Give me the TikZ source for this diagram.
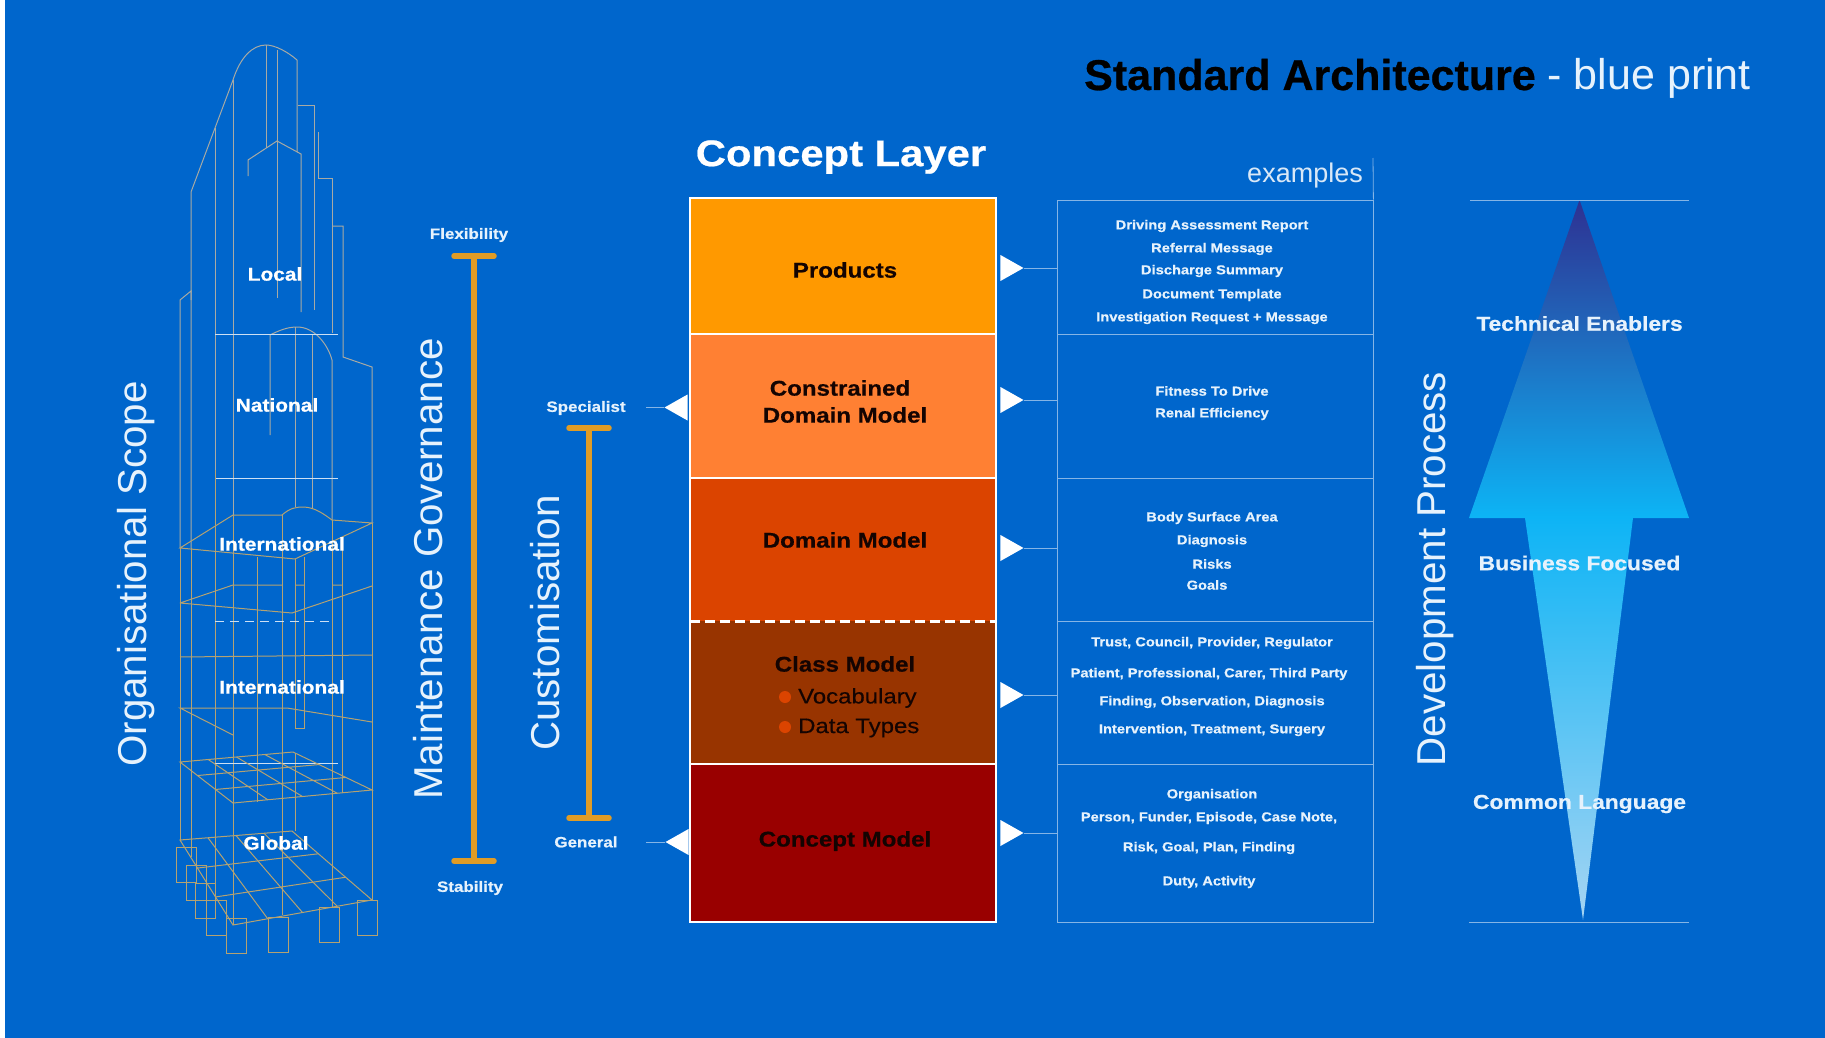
\documentclass[tikz,border=0pt]{standalone}
\usepackage{fontspec}
\usepackage{xcolor}
\usetikzlibrary{shapes.geometric}
\setmainfont{Liberation Sans}
\newfontfamily\widebold[FakeStretch=1.13,FakeBold=0.6]{Liberation Sans Bold}
\newfontfamily\heavybold[FakeBold=0.6]{Liberation Sans Bold}
\newfontfamily\wideplain[FakeStretch=1.14,FakeBold=0.4]{Liberation Sans}
\definecolor{printblue}{HTML}{0066CC}
\definecolor{towergrey}{HTML}{A8AAA4}
\definecolor{towertan}{HTML}{B4A272}
\definecolor{barorange}{HTML}{E09C26}
\definecolor{rowline}{HTML}{85B5E6}
\definecolor{softwhite}{HTML}{E6F2FC}
\definecolor{productsfill}{HTML}{FF9900}
\definecolor{constrainedfill}{HTML}{FF8033}
\definecolor{domainfill}{HTML}{DB4400}
\definecolor{classfill}{HTML}{983400}
\definecolor{conceptfill}{HTML}{990000}
\definecolor{arrowtop}{HTML}{2E3192}
\definecolor{arrowmid}{HTML}{0DB4F5}
\definecolor{arrowlow}{HTML}{A5D4F3}
\definecolor{darktext}{HTML}{140402}
\pgfdeclareverticalshading{arrowfade}{100bp}{
    color(0bp)=(arrowlow);
    color(25bp)=(arrowlow);
    color(53bp)=(arrowmid);
    color(75bp)=(arrowtop);
    color(100bp)=(arrowtop)}
\tikzset{
    x=1pt, y=-1pt,
    layer-box/.style = {rectangle, inner sep=0pt, minimum width=306pt},
    layer-title/.style = {font=\widebold\fontsize{21.3}{25}\selectfont, text=darktext, align=center},
    layer-item/.style = {font=\wideplain\fontsize{21}{25}\selectfont, text=darktext, anchor=west, inner sep=0pt},
    list-panel/.style = {draw=rowline, line width=0.8pt, rectangle, inner sep=0pt, minimum width=316pt},
    list-text/.style = {font=\widebold\fontsize{13}{15}\selectfont, text=softwhite},
    level-text/.style = {font=\widebold\fontsize{18.5}{21}\selectfont, text=white},
    side-text/.style = {font=\fontsize{40.3}{46}\selectfont, text=softwhite, rotate=90},
    end-text/.style = {font=\widebold\fontsize{15}{17}\selectfont, text=softwhite},
    step-text/.style = {font=\widebold\fontsize{20.2}{24}\selectfont, text=softwhite},
    tip-right/.style = {isosceles triangle, isosceles triangle stretches, fill=white, inner sep=0pt, minimum width=26pt, minimum height=23pt, anchor=apex},
    tip-left/.style = {tip-right, shape border rotate=180},
    link-line/.style = {draw=rowline, line width=0.8pt},
    bar-line/.style = {draw=barorange, line width=5.5pt, line cap=round},
    tower-grey/.style = {draw=towergrey, line width=1pt},
    tower-tan/.style = {draw=towertan, line width=1pt},
    floor-line/.style = {draw=white!80!printblue, line width=0.9pt},
}
\begin{document}
\begin{tikzpicture}
\fill[white] (0,0) rectangle (1825,1038);
\fill[printblue] (5,0) rectangle (1825,1038);
\useasboundingbox (0,0) rectangle (1825,1038);

% titles
\node[anchor=base west, inner sep=0pt] (title) at (1084,90) {\heavybold\fontsize{43}{50}\selectfont\textcolor{black}{Standard Architecture}\textcolor{softwhite}{\normalfont\fontsize{43}{50}\selectfont\ - blue print}};
\node[font=\widebold\fontsize{37}{43}\selectfont, text=white] (layer-head) at (841,157) {Concept Layer};
\node[font=\fontsize{27}{32}\selectfont, text=white!85!printblue] (examples-head) at (1305,176) {examples};

% side labels
\node[side-text] (scope-label) at (136,574) {Organisational Scope};
\node[side-text] (governance-label) at (428,569) {Maintenance Governance};
\node[side-text] (custom-label) at (545,623) {Customisation};
\node[side-text] (process-label) at (1435,569) {Development Process};

% tower, upper part
\draw[tower-grey] (191,300) -- (191,192) -- (233,80) .. controls (240,58) and (252,45) .. (266,45) .. controls (275,45) and (288,52) .. (297,60) -- (297,152);
\draw[tower-grey] (233,80) -- (233,515) (215,128) -- (215,470) (266,45) -- (266,148) (277,50) -- (277,298);
\draw[tower-grey] (248,176) -- (248,160) -- (277,141) -- (301,154) -- (301,312);
\draw[tower-grey] (298,106) -- (314,106) -- (314,310);
\draw[tower-grey] (318,132) -- (318,178) -- (332,178) -- (332,333);
\draw[tower-grey] (332,226) -- (343,226) -- (343,357) -- (372,367) -- (372,523);
\draw[tower-grey] (180,548) -- (180,300) -- (191,291) -- (191,548);
\draw[tower-grey] (270,435) -- (270,335) .. controls (280,330) and (288,327) .. (297,327) .. controls (315,327) and (328,345) .. (332,360) -- (332,520);
\draw[tower-grey] (295,327) -- (295,507) (312,335) -- (312,508);
\draw[floor-line] (215,334) -- (338,334) (215,478) -- (338,478);

% tower, lower part
\draw[tower-tan] (180,548) -- (233,515) -- (282,515) .. controls (290,508) and (296,507) .. (303,507) .. controls (315,507) and (325,515) .. (332,520) -- (372,523) -- (295,559) -- cycle;
\draw[tower-tan] (180,603) -- (233,585) -- (282,585) (295,585) -- (304,585) (332,585) -- (342,585) (372,586) -- (292,613) -- (180,603);
\draw[tower-tan] (180,657) -- (372,655);
\draw[tower-tan] (233,735) -- (180,708) -- (287,708) -- (372,722);
\draw[tower-tan] (180,548) -- (180,840) (191,548) -- (191,857) (215,470) -- (215,917) (233,515) -- (233,925);
\draw[tower-tan] (257,557) -- (257,802) (282,515) -- (282,915) (342,540) -- (342,793) (332,520) -- (332,907) (372,523) -- (372,900);
\draw[tower-tan] (295,559) -- (295,728) -- (304,728) -- (304,557) (295,753) -- (295,831);
\draw[floor-line, dash pattern=on 9pt off 6pt] (215,621) -- (332,621);
\draw[floor-line] (215,763) -- (338,763);

% tower, the two grid floors
\foreach \ya/\yb/\xa/\xb/\xc/\xd/\ra/\rb in {762/752/180/293/372/233/790/803, 840/831/180/292/372/233/900/925}{
    \draw[tower-tan] (\xa,\ya) -- (\xb,\yb) -- (\xc,\ra) -- (\xd,\rb) -- cycle;
    \foreach \t in {0.25,0.5,0.75}{
        \draw[tower-tan] ({\xa+\t*(\xb-\xa)},{\ya+\t*(\yb-\ya)}) -- ({\xd+\t*(\xc-\xd)},{\rb+\t*(\ra-\rb)});
    }
    \foreach \t in {0.33,0.67}{
        \draw[tower-tan] ({\xa+\t*(\xd-\xa)},{\ya+\t*(\rb-\ya)}) -- ({\xb+\t*(\xc-\xb)},{\yb+\t*(\ra-\yb)});
    }
}
\foreach \px/\py in {176/847,186/865,195/883,206/900,226/918,268/917,319/907,357/900}{
    \draw[tower-tan] (\px,\py) rectangle ++(20,35);
}

% tower levels
\node[level-text] (local) at (275,274) {Local};
\node[level-text] (national) at (277,405) {National};
\node[level-text] (international-a) at (282,544) {International};
\node[level-text] (international-b) at (282,687) {International};
\node[level-text] (global) at (276,843) {Global};

% governance and customisation ranges
\node[end-text] (flexibility) at (469,235) {Flexibility};
\node[end-text] (stability) at (470,888) {Stability};
\coordinate (flex-top) at (474,256);
\coordinate (flex-bottom) at (474,861);
\draw[bar-line] (flex-top) -- (flex-bottom);
\draw[bar-line] ([xshift=-20pt]flex-top) -- ([xshift=20pt]flex-top);
\draw[bar-line] ([xshift=-20pt]flex-bottom) -- ([xshift=20pt]flex-bottom);
\node[end-text] (specialist) at (586,408) {Specialist};
\node[end-text] (general) at (586,842) {General};
\coordinate (custom-top) at (589,428);
\coordinate (custom-bottom) at (589,818);
\draw[bar-line] (custom-top) -- (custom-bottom);
\draw[bar-line] ([xshift=-20pt]custom-top) -- ([xshift=20pt]custom-top);
\draw[bar-line] ([xshift=-20pt]custom-bottom) -- ([xshift=20pt]custom-bottom);

% layer stack
\node[layer-box, fill=productsfill, minimum height=136pt] (products) at (843,266) {};
\node[layer-box, fill=constrainedfill, minimum height=144pt] (constrained) at (843,406) {};
\node[layer-box, fill=domainfill, minimum height=143pt] (domain) at (843,549.5) {};
\node[layer-box, fill=classfill, minimum height=143pt] (class) at (843,692.5) {};
\node[layer-box, fill=conceptfill, minimum height=158pt] (concept) at (843,843) {};
\draw[white, line width=2.4pt] (products.north west) rectangle (concept.south east);
\draw[white, line width=2pt] (products.south west) -- (products.south east);
\draw[white, line width=2pt] (constrained.south west) -- (constrained.south east);
\draw[white, line width=2.6pt, dash pattern=on 10pt off 5pt] (domain.south west) -- (domain.south east);
\draw[white, line width=2pt] (class.south west) -- (class.south east);
\node[layer-title] (products-label) at (845,270) {Products};
\node[layer-title] (constrained-label-a) at (840,388) {Constrained};
\node[layer-title] (constrained-label-b) at (845,415) {Domain Model};
\node[layer-title] (domain-label) at (845,540) {Domain Model};
\node[layer-title] (class-label) at (845,664) {Class Model};
\node[layer-title] (concept-label) at (845,841) {Concept Model};
\fill[domainfill] (785,697) circle (6);
\fill[domainfill] (785,727) circle (6);
\node[layer-item] (vocabulary) at (798,698) {Vocabulary};
\node[layer-item] (data-types) at (798,728) {Data Types};

% example panels
\node[list-panel, minimum height=134pt] (products-list) at (1215,267) {};
\node[list-panel, minimum height=144pt] (constrained-list) at (1215,406) {};
\node[list-panel, minimum height=143pt] (domain-list) at (1215,549.5) {};
\node[list-panel, minimum height=143pt] (class-list) at (1215,692.5) {};
\node[list-panel, minimum height=158pt] (concept-list) at (1215,843) {};
\coordinate (examples-top) at (1373,158);
\draw[link-line] (examples-top) -- (products-list.north east);
\foreach \ny/\nt in {226/Driving Assessment Report, 249/Referral Message, 271/Discharge Summary, 295/Document Template, 318/Investigation Request + Message, 391/Fitness To Drive, 414/Renal Efficiency, 518/Body Surface Area, 541/Diagnosis, 564/Risks, 643/{Trust, Council, Provider, Regulator}, 702/{Finding, Observation, Diagnosis}, 730/{Intervention, Treatment, Surgery}, 795/Organisation}{
    \node[list-text] at (1212,\ny) {\nt};
}
\foreach \ny/\nt in {585/Goals}{
    \node[list-text] at (1207,\ny) {\nt};
}
\foreach \ny/\nt in {674/{Patient, Professional, Carer, Third Party}, 818/{Person, Funder, Episode, Case Note,}, 848/{Risk, Goal, Plan, Finding}, 882/{Duty, Activity}}{
    \node[list-text] at (1209,\ny) {\nt};
}

% pointers
\foreach \nname/\ny in {products/268, constrained/400, domain/548, class/695, concept/833}{
    \node[tip-right] (\nname-tip) at (1024,\ny) {};
    \draw[link-line] (\nname-tip.apex) -- (\nname-tip.apex -| \nname-list.west);
}
\node[tip-left] (specialist-tip) at (664,407.5) {};
\node[tip-left] (general-tip) at (665,842) {};
\coordinate (specialist-end) at (646,407.5);
\coordinate (general-end) at (646,842);
\draw[link-line] (specialist-tip.apex) -- (specialist-end);
\draw[link-line] (general-tip.apex) -- (general-end);

% development arrow
\shade[shading=arrowfade] (1579.5,200) -- (1689,518) -- (1633,518) -- (1583,920) -- (1525,518) -- (1469,518) -- cycle;
\coordinate (arrow-top-a) at (1470,200);
\coordinate (arrow-top-b) at (1689,200);
\coordinate (arrow-bottom-a) at (1469,922);
\coordinate (arrow-bottom-b) at (1689,922);
\draw[link-line] (arrow-top-a) -- (arrow-top-b);
\draw[link-line] (arrow-bottom-a) -- (arrow-bottom-b);
\node[step-text] (enablers) at (1579.5,323.5) {Technical Enablers};
\node[step-text] (business) at (1579.5,563) {Business Focused};
\node[step-text] (common) at (1579.5,804) {Common Language};
\end{tikzpicture}
\end{document}
